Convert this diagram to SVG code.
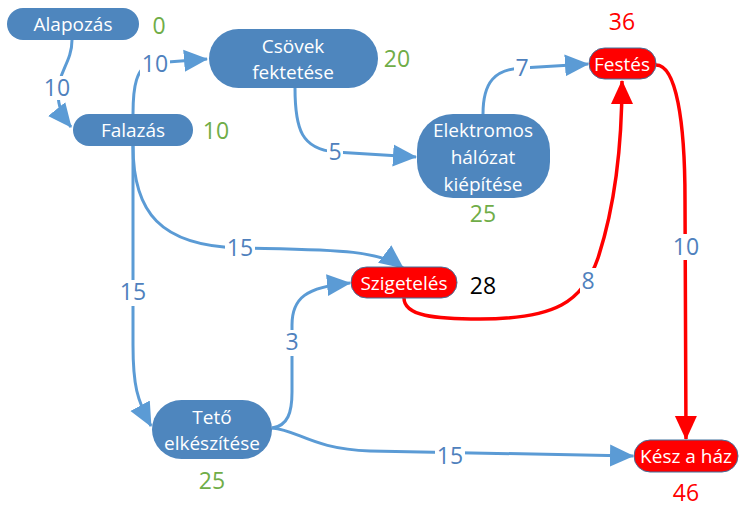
<svg xmlns="http://www.w3.org/2000/svg" width="739" height="507" viewBox="0 0 739 507">
  <style>
    .node { fill: #4E86BE; }
    .crit { fill: #FF0000; stroke: #41719C; stroke-width: 1; }
    .ntxt { font-family: "Open Sans", "Liberation Sans", sans-serif; font-size: 19px; fill: #FFFFFF; text-anchor: middle; }
    .edge { fill: none; stroke: #5B9BD5; stroke-width: 3; }
    .edge-red { fill: none; stroke: #FF0000; stroke-width: 3.5; }
    .lbl { font-family: "Open Sans", "Liberation Sans", sans-serif; font-size: 23px; fill: #4F81BD; text-anchor: middle; }
    .gap { fill: #FFFFFF; }
    .num { font-family: "Open Sans", "Liberation Sans", sans-serif; font-size: 23px; text-anchor: middle; }
    .green { fill: #70AD47; }
    .red { fill: #FF0000; }
    .black { fill: #000000; }
  </style>
  <defs>
    <marker id="arrow-blue" markerUnits="userSpaceOnUse" markerWidth="24" markerHeight="24" viewBox="0 0 24 24" refX="23" refY="12" orient="auto">
      <path d="M0,1 L24,12 L0,23 Z" fill="#5B9BD5"/>
    </marker>
    <marker id="arrow-red" markerUnits="userSpaceOnUse" markerWidth="24" markerHeight="24" viewBox="0 0 24 24" refX="23" refY="12" orient="auto">
      <path d="M0,1 L24,12 L0,23 Z" fill="#FF0000"/>
    </marker>
  </defs>

  <!-- connectors -->
  <g id="connectors">
    <path class="edge" d="M72,40 C72,62 58,72 58,92 C58,108 63,117 71,127" marker-end="url(#arrow-blue)"/>
    <path class="edge" d="M133,114 C133,90 135,64 155,63 L207,59" marker-end="url(#arrow-blue)"/>
    <path class="edge" d="M295,88 C295,130 302,149 335,152 L416,157" marker-end="url(#arrow-blue)"/>
    <path class="edge" d="M483,114 C483,82 495,69 522,68 L588,64" marker-end="url(#arrow-blue)"/>
    <path class="edge" d="M133,146 C133,212 160,246 240,248 C330,250 378,249 403,268" marker-end="url(#arrow-blue)"/>
    <path class="edge" d="M133,146 L133,345 C133,385 137,400 151,426" marker-end="url(#arrow-blue)"/>
    <path class="edge" d="M272,428 C288,426 292,412 292,392 L292,325 C292,298 306,287 350,283" marker-end="url(#arrow-blue)"/>
    <path class="edge" d="M272,428 C298,430 312,449 370,451 L633,456" marker-end="url(#arrow-blue)"/>
    <path class="edge-red" d="M404,298 C404,316 435,319 480,319 C555,319 583,302 598,258 C613,212 622,150 622,81" marker-end="url(#arrow-red)"/>
    <path class="edge-red" d="M656,65 C676,65 685,120 685,200 L686,439" marker-end="url(#arrow-red)"/>

    <!-- duration labels -->
    <rect class="gap" x="43" y="76" width="29" height="24"/>
    <text class="lbl" x="57" y="96">10</text>
    <rect class="gap" x="140" y="52" width="30" height="24"/>
    <text class="lbl" x="155" y="72">10</text>
    <rect class="gap" x="327" y="140" width="16" height="24"/>
    <text class="lbl" x="335" y="160">5</text>
    <rect class="gap" x="514" y="56" width="16" height="24"/>
    <text class="lbl" x="522" y="76">7</text>
    <rect class="gap" x="225" y="236" width="30" height="24"/>
    <text class="lbl" x="240" y="256">15</text>
    <rect class="gap" x="118" y="280" width="30" height="26"/>
    <text class="lbl" x="133" y="300">15</text>
    <rect class="gap" x="284" y="330" width="16" height="26"/>
    <text class="lbl" x="292" y="350">3</text>
    <rect class="gap" x="435" y="444" width="30" height="24"/>
    <text class="lbl" x="450" y="464">15</text>
    <rect class="gap" x="580" y="268" width="16" height="26"/>
    <text class="lbl" x="588" y="289">8</text>
    <rect class="gap" x="671" y="234" width="30" height="26"/>
    <text class="lbl" x="686" y="255">10</text>
  </g>

  <g id="alapozas">
    <rect class="node" x="7" y="8" width="132" height="32" rx="16"/>
    <text class="ntxt" x="73" y="31">Alapozás</text>
    <text class="num green" x="159" y="34">0</text>
  </g>

  <g id="falazas">
    <rect class="node" x="73" y="114" width="120" height="32" rx="16"/>
    <text class="ntxt" x="133" y="137">Falazás</text>
    <text class="num green" x="216" y="139">10</text>
  </g>

  <g id="csovek">
    <rect class="node" x="209" y="29" width="169" height="59" rx="29.5"/>
    <text class="ntxt" x="293" y="53">Csövek</text>
    <text class="ntxt" x="293" y="79">fektetése</text>
    <text class="num green" x="397" y="67">20</text>
  </g>

  <g id="elektromos">
    <rect class="node" x="417" y="114" width="133" height="84" rx="36"/>
    <text class="ntxt" x="483" y="137">Elektromos</text>
    <text class="ntxt" x="483" y="164">hálózat</text>
    <text class="ntxt" x="483" y="191">kiépítése</text>
    <text class="num green" x="483" y="222">25</text>
  </g>

  <g id="festes">
    <rect class="crit" x="589" y="48" width="67" height="31" rx="15.5"/>
    <text class="ntxt" x="622" y="71">Festés</text>
    <text class="num red" x="622" y="30">36</text>
  </g>

  <g id="szigeteles">
    <rect class="crit" x="351" y="267" width="106" height="31" rx="15.5"/>
    <text class="ntxt" x="404" y="290">Szigetelés</text>
    <text class="num black" x="483" y="294">28</text>
  </g>

  <g id="teto">
    <rect class="node" x="152" y="400" width="120" height="59" rx="29.5"/>
    <text class="ntxt" x="212" y="424">Tető</text>
    <text class="ntxt" x="212" y="450">elkészítése</text>
    <text class="num green" x="212" y="489">25</text>
  </g>

  <g id="kesz">
    <rect class="crit" x="634" y="440" width="104" height="32" rx="16"/>
    <text class="ntxt" x="686" y="463">Kész a ház</text>
    <text class="num red" x="686" y="501">46</text>
  </g>
</svg>
